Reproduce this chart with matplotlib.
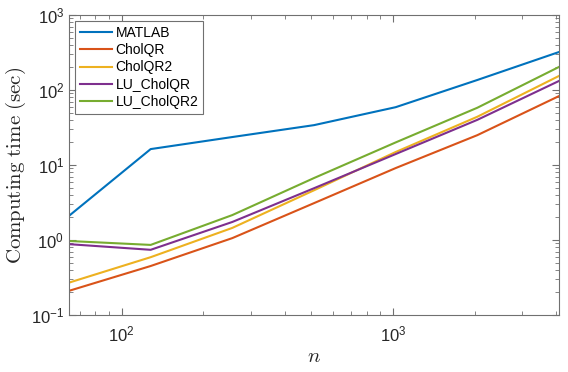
import numpy as np
import matplotlib
matplotlib.use("Agg")
import matplotlib.pyplot as plt
from matplotlib.ticker import LogLocator, NullFormatter

n = [64, 128, 256, 512, 1024, 2048, 4096]
matlab = [2.1, 16.3, 23.6, 34, 59, 136, 321]
cholqr = [0.21, 0.45, 1.06, 3.1, 9.1, 25, 83]
cholqr2 = [0.27, 0.59, 1.45, 4.6, 14.9, 44, 154]
lu_cholqr = [0.88, 0.74, 1.74, 4.9, 14, 40, 132]
lu_cholqr2 = [0.97, 0.86, 2.15, 6.7, 20, 58, 203]

series = [
    ("MATLAB", matlab, "#0072BD"),
    ("CholQR", cholqr, "#D95319"),
    ("CholQR2", cholqr2, "#EDB120"),
    ("LU_CholQR", lu_cholqr, "#7E2F8E"),
    ("LU_CholQR2", lu_cholqr2, "#77AC30"),
]

plt.rcParams["font.family"] = ["Liberation Sans", "DejaVu Sans"]
plt.rcParams["mathtext.fontset"] = "custom"
plt.rcParams["mathtext.rm"] = "Liberation Sans"
plt.rcParams["mathtext.it"] = "Liberation Sans:italic"
plt.rcParams["mathtext.bf"] = "Liberation Sans:bold"

axcol = "#707070"

fig = plt.figure(figsize=(5.68, 3.72), dpi=100)
ax = fig.add_axes([69 / 568, 1 - 315 / 372, 490 / 568, 300 / 372])

for label, vals, col in series:
    ax.loglog(n, vals, color=col, lw=1.5, label=label)

ax.set_xlim(64, 4096)
ax.set_ylim(0.1, 1000)
ax.xaxis.set_major_locator(LogLocator(base=10))
ax.yaxis.set_major_locator(LogLocator(base=10))
ax.xaxis.set_minor_locator(LogLocator(base=10, subs=np.arange(2, 10)))
ax.yaxis.set_minor_locator(LogLocator(base=10, subs=np.arange(2, 10)))
ax.xaxis.set_minor_formatter(NullFormatter())
ax.yaxis.set_minor_formatter(NullFormatter())

ax.tick_params(which="both", direction="in", top=True, right=True,
               colors=axcol, labelcolor="#262626", labelsize=12)
ax.tick_params(which="major", length=5)
ax.tick_params(which="minor", length=3)
ax.tick_params(axis="x", which="major", pad=7)
for s in ax.spines.values():
    s.set_color(axcol)

ax.set_xlabel("$n$", fontsize=15, math_fontfamily="cm", color="#262626",
              labelpad=2)
ax.set_ylabel(r"$\mathrm{Computing\ time\ (sec)}$", fontsize=15,
              math_fontfamily="cm", color="#262626", labelpad=2)

leg = ax.legend(loc="upper left", fontsize=10, fancybox=False,
                edgecolor=axcol, framealpha=1, handlelength=2.3,
                borderaxespad=0.45, labelspacing=0.23, handletextpad=0.25,
                borderpad=0.35)
leg.get_frame().set_linewidth(0.8)

fig.savefig("out.png", dpi=100)
